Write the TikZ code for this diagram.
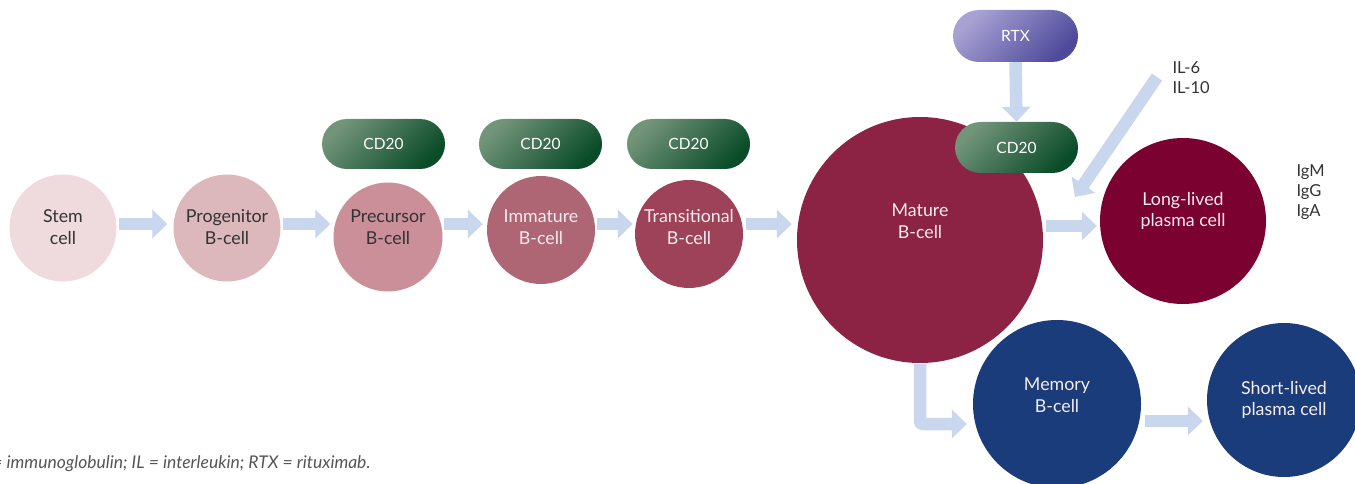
\documentclass[tikz,border=0pt]{standalone}
\usepackage{fontspec}
\setmainfont{Lato}
\usetikzlibrary{arrows.meta,shapes.misc,calc}
\definecolor{stemc}{HTML}{EFDADE}
\definecolor{progc}{HTML}{DCB8BC}
\definecolor{precc}{HTML}{CA8F98}
\definecolor{immc}{HTML}{AF6674}
\definecolor{transc}{HTML}{9E4259}
\definecolor{matc}{HTML}{8C2345}
\definecolor{longc}{HTML}{7B0131}
\definecolor{bluec}{HTML}{1A3C7A}
\definecolor{arrowc}{HTML}{C8D6EE}
\definecolor{cdA}{HTML}{729479}
\definecolor{cdB}{HTML}{0A4C29}
\definecolor{rtxA}{HTML}{A8A2D4}
\definecolor{rtxB}{HTML}{4E4A9A}
\definecolor{darktext}{HTML}{333333}
\definecolor{foottext}{HTML}{555555}
\definecolor{lighttext}{HTML}{F5ECEF}
\begin{document}
\begin{tikzpicture}[x=1pt,y=-1pt,
  cell/.style={circle, inner sep=0pt, draw=none},
  lbl/.style={font=\fontsize{17.8}{21.5}\selectfont, align=center},
  pill/.style={rounded rectangle, minimum width=123pt, minimum height=50pt, inner sep=0pt, font=\fontsize{15.5}{19}\selectfont, text=white},
  cdpill/.style={pill, top color=cdA, bottom color=cdB, shading angle=45},
  rtxpill/.style={pill, top color=rtxA, bottom color=rtxB, shading angle=45},
  blockarrow/.style={draw=arrowc, line width=12.5pt, -{Triangle[length=15pt,width=28pt]}},
  side/.style={font=\fontsize{16.5}{20}\selectfont, align=left, text=darktext}
]
\useasboundingbox (0,0) rectangle (1355,484);
\clip (0,0) rectangle (1355,484);

% cells
\node[cell, fill=stemc, minimum size=107pt] (stem) at (63,228) {};
\node[cell, fill=progc, minimum size=107pt] (prog) at (227,228) {};
\node[cell, fill=precc, minimum size=109pt] (prec) at (388,237) {};
\node[cell, fill=immc, minimum size=108pt] (imm) at (541,230) {};
\node[cell, fill=transc, minimum size=108pt] (trans) at (689,234) {};
\node[cell, fill=matc, minimum size=246pt] (mature) at (920,240) {};
\node[cell, fill=longc, minimum size=166pt] (long) at (1183,221) {};
\node[cell, fill=bluec, minimum size=168pt] (memory) at (1057,404) {};
\node[cell, fill=bluec, minimum size=154pt] (short) at (1284,400) {};

% labels
\node[lbl, text=darktext] (stemT) at (63,227) {Stem\\cell};
\node[lbl, text=darktext] (progT) at (227,227) {Progenitor\\B-cell};
\node[lbl, text=darktext] (precT) at (388,227) {Precursor\\B-cell};
\node[lbl, text=lighttext] (immT) at (541,227) {Immature\\B-cell};
\node[lbl, text=lighttext] (transT) at (689,227) {Transitional\\B-cell};
\node[lbl, text=lighttext] (matT) at (920,221) {Mature\\B-cell};
\node[lbl, text=lighttext] (longT) at (1183,211) {Long-lived\\plasma cell};
\node[lbl, text=lighttext] (memT) at (1057,395) {Memory\\B-cell};
\node[lbl, text=lighttext] (shortT) at (1284,400) {Short-lived\\plasma cell};

% pills
\node[cdpill] (cd1) at (383.5,144) {CD20};
\node[cdpill] (cd2) at (540.5,144) {CD20};
\node[cdpill] (cd3) at (688.5,144) {CD20};
\node[cdpill, minimum height=51pt] (cd4) at (1016.5,147.5) {CD20};
\node[rtxpill, minimum width=125pt, minimum height=52pt] (rtx) at (1015.5,36) {RTX};

% side texts
\node[side, anchor=west] (il) at (1169,78) {IL-6\\IL-10};
\node[side, anchor=west] (ig) at (1293,192) {IgM\\IgG\\IgA};
\coordinate (ilstart) at (1157,77);
\coordinate (iltip) at (1075,197);

% arrows
\draw[blockarrow] ([xshift=2pt]stem.east |- 0,224) -- ([xshift=-6pt]prog.west |- 0,224);
\draw[blockarrow] ([xshift=2pt]prog.east |- 0,224) -- ([xshift=-3pt]prec.west |- 0,224);
\draw[blockarrow] ([xshift=1pt]prec.east |- 0,224) -- ([xshift=-4pt]imm.west |- 0,224);
\draw[blockarrow] ([xshift=2pt]imm.east |- 0,224) -- ([xshift=-2pt]trans.west |- 0,224);
\draw[blockarrow] ([xshift=3pt]trans.east |- 0,224) -- ([xshift=-5pt]mature.west |- 0,224);
\draw[blockarrow] ([xshift=3pt]mature.east |- 0,226) -- ([xshift=-3pt]long.west |- 0,226);
\draw[blockarrow] (rtx.south) -- (cd4.north);
\draw[blockarrow] (ilstart) -- (iltip);
\draw[blockarrow, rounded corners=3pt] ([yshift=-1pt]mature.south) |- ($(memory.west)+(-6,20)$);
\draw[blockarrow] ([xshift=4pt]memory.east |- 0,421) -- ([xshift=-4pt]short.west |- 0,421);

% footnote
\node[anchor=base east, font=\itshape\fontsize{17.5}{20}\selectfont, text=foottext] (foot) at (374,468) {Ig = immunoglobulin; IL = interleukin; RTX = rituximab.};
\end{tikzpicture}
\end{document}
